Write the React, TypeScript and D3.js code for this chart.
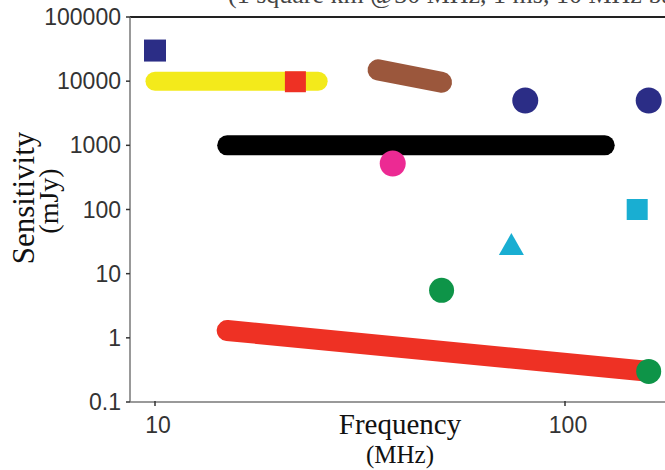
import React from "react";
import * as d3 from "d3";

const W = 665;
const H = 470;

const yTickValues = [0.1, 1, 10, 100, 1000, 10000, 100000];
const yTickLabels = ["0.1", "1", "10", "100", "1000", "10000", "100000"];
const xTickValues = [10, 100];
const xTickLabels = ["10", "100"];

// thick line segments: [freq, sensitivity]
const yellowLine: [number, number][] = [[10, 10000], [25, 10000]];
const brownLine: [number, number][] = [[35, 15000], [50, 9600]];
const blackLine: [number, number][] = [[15, 1000], [125, 1000]];
const redLine: [number, number][] = [[15, 1.3], [160, 0.3]];

const navySquares: [number, number][] = [[10, 30000]];
const redSquares: [number, number][] = [[22, 9800]];
const cyanSquares: [number, number][] = [[150, 100]];
const navyCircles: [number, number][] = [[80, 5000], [160, 5000]];
const magentaCircles: [number, number][] = [[38, 520]];
const greenCircles: [number, number][] = [[50, 5.5], [160, 0.3]];
const cyanTriangles: [number, number][] = [[74, 29]];

const NAVY = "#2b2d86";
const YELLOW = "#f3ea1b";
const RED = "#ee3124";
const BROWN = "#9b573c";
const MAGENTA = "#ec2a93";
const CYAN = "#19aed2";
const GREEN = "#0e9448";

export default function App() {
  const left = 130;
  const top = 17;
  const bottom = 402;
  // 10 -> 155, 100 -> 565
  const dec = 410;
  const xMin = Math.pow(10, 1 - (155 - left) / dec);
  const xMax = Math.pow(10, 1 + (680 - 155) / dec);
  const x = d3.scaleLog().domain([xMin, xMax]).range([left, 680]);
  const y = d3.scaleLog().domain([0.1, 100000]).range([bottom, top]);
  const line = d3
    .line<[number, number]>()
    .x((d) => x(d[0]))
    .y((d) => y(d[1]));

  const sq = (pts: [number, number][], color: string, s: number) =>
    pts.map((p, i) => (
      <rect key={color + i} x={x(p[0]) - s / 2} y={y(p[1]) - s / 2} width={s} height={s} fill={color} />
    ));
  const circ = (pts: [number, number][], color: string, r: number) =>
    pts.map((p, i) => <circle key={color + i} cx={x(p[0])} cy={y(p[1])} r={r} fill={color} />);

  const serif = "'Liberation Serif', 'DejaVu Serif', serif";
  const sans = "'Liberation Sans', Arial, sans-serif";

  return (
    <svg width={W} height={H} style={{ position: "absolute", left: 0, top: 0, background: "#fff" }}>
      <rect x={0} y={0} width={W} height={H} fill="#fff" />
      <text x={228} y={3} fontFamily={serif} fontSize={26} fill="#444">
        (1 square km @30 MHz, 1 ms, 10 MHz bandwidth)
      </text>
      {/* axes */}
      <line x1={left} x2={W} y1={top} y2={top} stroke="#222" strokeWidth={2.2} />
      <line x1={left} x2={left} y1={top} y2={bottom} stroke="#777" strokeWidth={1.5} />
      <line x1={left} x2={W} y1={bottom} y2={bottom} stroke="#777" strokeWidth={1.5} />
      {yTickValues.map((v, i) => (
        <g key={"yt" + i}>
          <line x1={left - 4} x2={left} y1={y(v)} y2={y(v)} stroke="#333" strokeWidth={1.5} />
          <text x={121} y={y(v) + 8} textAnchor="end" fontFamily={sans} fontSize={23} fill="#333">
            {yTickLabels[i]}
          </text>
        </g>
      ))}
      {xTickValues.map((v, i) => (
        <g key={"xt" + i}>
          <line x1={x(v)} x2={x(v)} y1={bottom - 1} y2={bottom + 4} stroke="#333" strokeWidth={1.5} />
          <text x={x(v) + 3} y={433} textAnchor="middle" fontFamily={sans} fontSize={23} fill="#333">
            {xTickLabels[i]}
          </text>
        </g>
      ))}
      <text x={400} y={434} textAnchor="middle" fontFamily={serif} fontSize={29} fill="#111">
        Frequency
      </text>
      <text x={400} y={463} textAnchor="middle" fontFamily={serif} fontSize={25} fill="#111">
        (MHz)
      </text>
      <text
        transform="translate(34,198) rotate(-90)"
        textAnchor="middle"
        fontFamily={serif}
        fontSize={31}
        fill="#111"
      >
        Sensitivity
      </text>
      <text
        transform="translate(58,201) rotate(-90)"
        textAnchor="middle"
        fontFamily={serif}
        fontSize={28}
        fill="#111"
      >
        (mJy)
      </text>
      {/* thick lines */}
      <path d={line(yellowLine) || ""} stroke={YELLOW} strokeWidth={19} strokeLinecap="round" fill="none" />
      <path d={line(brownLine) || ""} stroke={BROWN} strokeWidth={21} strokeLinecap="round" fill="none" />
      <path d={line(blackLine) || ""} stroke="#000" strokeWidth={20} strokeLinecap="round" fill="none" />
      <path d={line(redLine) || ""} stroke={RED} strokeWidth={21} strokeLinecap="round" fill="none" />
      {sq(navySquares, NAVY, 22)}
      {sq(redSquares, RED, 21)}
      {sq(cyanSquares, CYAN, 21)}
      {circ(navyCircles, NAVY, 13)}
      {circ(magentaCircles, MAGENTA, 13)}
      {circ(greenCircles, GREEN, 12.5)}
      {cyanTriangles.map((p, i) => {
        const cx = x(p[0]);
        const cy = y(p[1]);
        const pts = `${cx},${cy - 11} ${cx + 12.5},${cy + 11} ${cx - 12.5},${cy + 11}`;
        return <polygon key={"tri" + i} points={pts} fill={CYAN} />;
      })}
    </svg>
  );
}
